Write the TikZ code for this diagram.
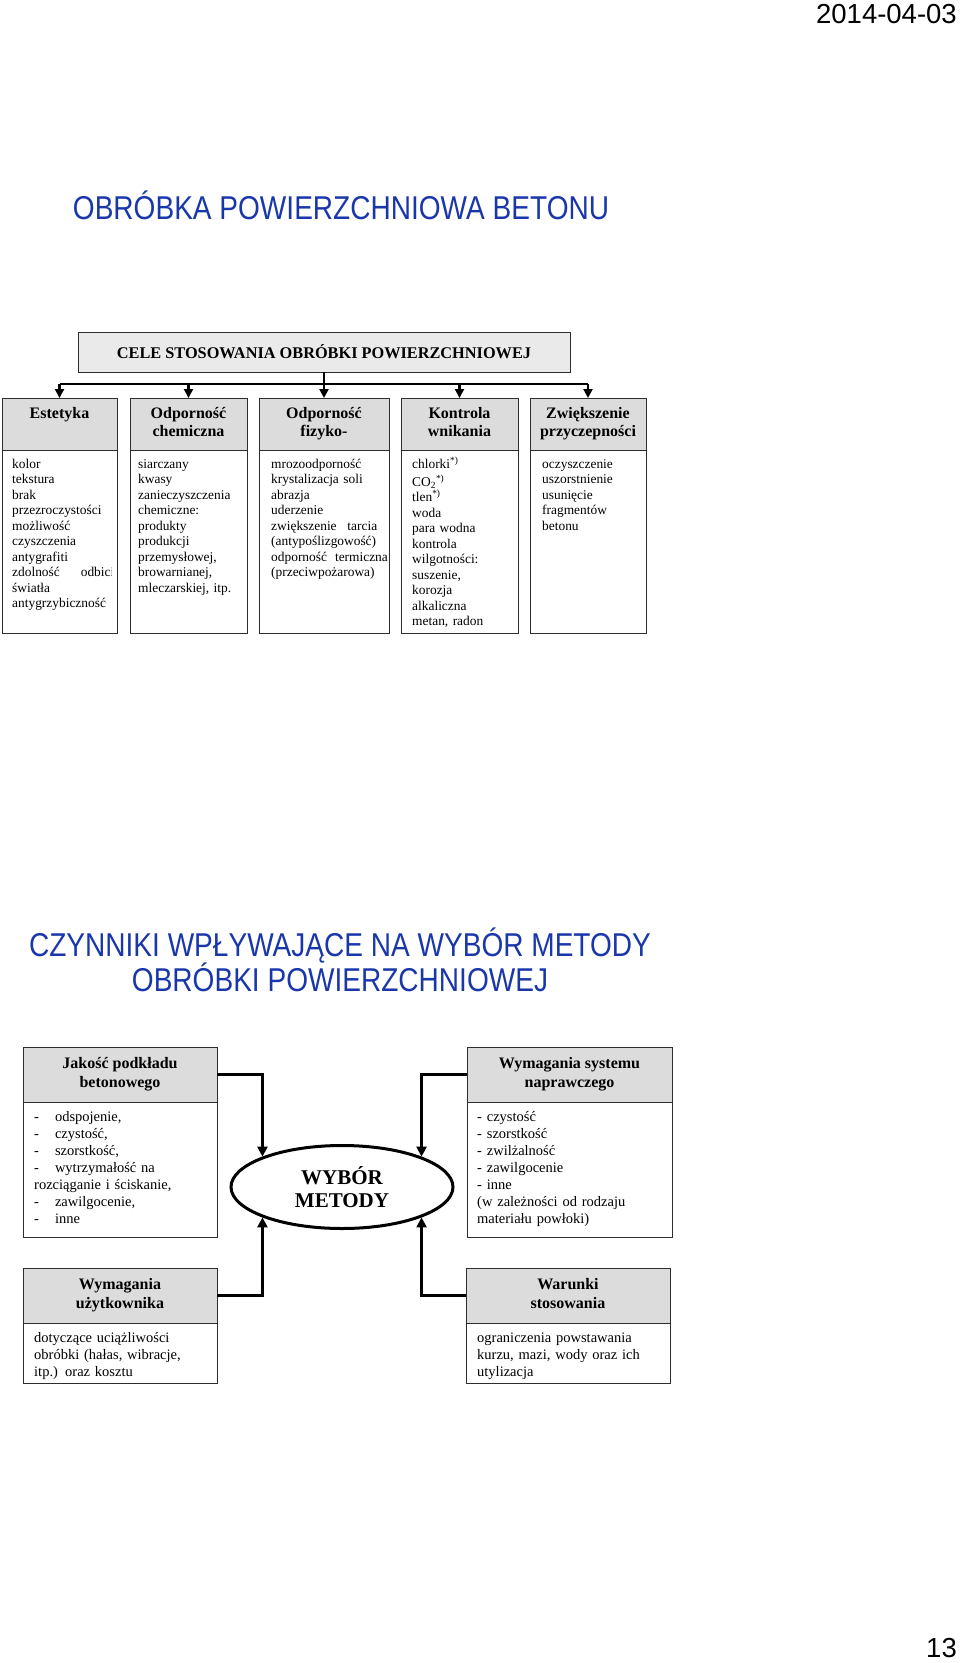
\documentclass[tikz,border=0pt]{standalone}
\usepackage{fontspec}
\setmainfont{Liberation Serif}
\newfontfamily\arialfont{Liberation Sans}
\usetikzlibrary{arrows.meta,shapes.geometric}
\definecolor{titleblue}{RGB}{25,55,170}
\definecolor{hdrgray}{RGB}{220,220,220}
\definecolor{celegray}{RGB}{234,234,234}
\definecolor{boxline}{RGB}{45,45,45}
\begin{document}
\begin{tikzpicture}[x=1pt,y=-1pt,
  hdr/.style={draw=boxline, line width=1pt, fill=hdrgray, anchor=north west, inner sep=0pt, outer sep=0pt, align=center, font=\fontsize{16}{18}\selectfont\bfseries},
  hdrb/.style={hdr, font=\fontsize{16}{19}\selectfont\bfseries},
  bodybox/.style={draw=boxline, line width=1pt, fill=white, anchor=north west, inner sep=0pt, outer sep=0pt},
  bodytext/.style={anchor=north west, inner sep=0pt, align=left, font=\fontsize{13.4}{15.5}\selectfont},
  btext/.style={anchor=north west, inner sep=0pt, align=left, text width=185pt, font=\fontsize{14.5}{17}\selectfont},
  titletext/.style={text=titleblue, inner sep=0pt, align=center, font=\arialfont\fontsize{33}{35.5}\selectfont},
  corner/.style={inner sep=0pt, font=\arialfont\fontsize{27.5}{30}\selectfont},
  tconn/.style={line width=2.2pt, black},
  tarr/.style={tconn, -{Triangle[width=9pt,length=9pt]}},
  barr/.style={line width=2.8pt, black, -{Triangle[width=10pt,length=10pt]}}
]
\useasboundingbox (0,0) rectangle (960,1663);

% corner texts
\node[corner, anchor=base east] (date) at (957,23) {2014-04-03};
\node[corner, anchor=base east] (pnum) at (957,1657) {13};

% titles
\node[titletext] (title1) at (341,205.5) {\scalebox{0.85}[1]{OBRÓBKA POWIERZCHNIOWA BETONU}};
\node[titletext] (title2) at (340,960) {\scalebox{0.85}[1]{CZYNNIKI WPŁYWAJĄCE NA WYBÓR METODY}\\\scalebox{0.85}[1]{OBRÓBKI POWIERZCHNIOWEJ}};

% ---------- top diagram ----------
\node[draw=boxline, line width=1pt, fill=celegray, minimum width=492, minimum height=40, inner sep=0pt, outer sep=0pt,
      font=\fontsize{16.3}{18}\selectfont\bfseries] (cele) at (324,352) {CELE STOSOWANIA OBRÓBKI POWIERZCHNIOWEJ};

\node[hdr, minimum width=115, minimum height=52] (h1) at (2,398) {\strut Estetyka\\\strut};
\node[bodybox, minimum width=115, minimum height=183] (b1) at (2,450) {};
\node[hdr, minimum width=117, minimum height=52] (h2) at (130,398) {\strut Odporność\\chemiczna\strut};
\node[bodybox, minimum width=117, minimum height=183] (b2) at (130,450) {};
\node[hdr, minimum width=130, minimum height=52] (h3) at (259,398) {\strut Odporność\\fizyko-\strut};
\node[bodybox, minimum width=130, minimum height=183] (b3) at (259,450) {};
\node[hdr, minimum width=117, minimum height=52] (h4) at (401,398) {\strut Kontrola\\wnikania\strut};
\node[bodybox, minimum width=117, minimum height=183] (b4) at (401,450) {};
\node[hdr, minimum width=116, minimum height=52] (h5) at (530,398) {\strut Zwiększenie\\przyczepności\strut};
\node[bodybox, minimum width=116, minimum height=183] (b5) at (530,450) {};

\begin{scope}
\clip (2,450) rectangle (111,633);
\node[bodytext, text width=98pt] (t1) at (12,457) {\strut kolor\\tekstura\\brak\\przezroczystości\\możliwość\\czyszczenia\\antygrafiti\\\mbox{zdolność\hspace{21pt}odbicia}\\światła\\antygrzybiczność};
\end{scope}
\node[bodytext, text width=104pt] (t2) at (138,457) {\strut siarczany\\kwasy\\zanieczyszczenia\\chemiczne:\\produkty\\produkcji\\przemysłowej,\\browarnianej,\\mleczarskiej, itp.};
\begin{scope}
\clip (259,450) rectangle (387,633);
\node[bodytext, text width=106pt] (t3) at (271,457) {\strut mrozoodporność\\krystalizacja soli\\abrazja\\uderzenie\\zwiększenie\hfill tarcia\\(antypoślizgowość)\\\mbox{odporność\hspace{8pt}termiczna}\\(przeciwpożarowa)};
\end{scope}
\node[bodytext, text width=102pt] (t4) at (412,457) {\strut chlorki\textsuperscript{*)}\\CO\textsubscript{2}\textsuperscript{*)}\\tlen\textsuperscript{*)}\\woda\\para wodna\\kontrola\\wilgotności:\\suszenie,\\korozja\\alkaliczna\\metan, radon};
\node[bodytext, text width=100pt] (t5) at (542,457) {\strut oczyszczenie\\uszorstnienie\\usunięcie\\fragmentów\\betonu};

\coordinate (bus) at (324,384);
\draw[tconn] (cele.south) -- (bus);
\draw[tconn] (h1.north |- bus) -- (h5.north |- bus);
\foreach \h in {h1,h2,h3,h4,h5}{
  \draw[tarr] (\h.north |- bus) -- (\h.north);
}

% ---------- bottom diagram ----------
\node[ellipse, draw, line width=3pt, minimum width=222, minimum height=83, inner sep=0pt, align=center,
      font=\fontsize{21}{23}\selectfont\bfseries] (ell) at (342,1187) {WYBÓR\\METODY};

\node[hdrb, minimum width=194, minimum height=55] (hj) at (23,1047) {\strut Jakość podkładu\\betonowego\strut};
\node[bodybox, minimum width=194, minimum height=135] (bj) at (23,1102) {};
\node[btext] (tj) at (34,1109) {\strut -\hspace{16pt}odspojenie,\\-\hspace{16pt}czystość,\\-\hspace{16pt}szorstkość,\\-\hspace{16pt}wytrzymałość na\\rozciąganie i ściskanie,\\-\hspace{16pt}zawilgocenie,\\-\hspace{16pt}inne};

\node[hdrb, minimum width=205, minimum height=55] (hs) at (467,1047) {\strut Wymagania systemu\\naprawczego\strut};
\node[bodybox, minimum width=205, minimum height=135] (bs) at (467,1102) {};
\node[btext] (ts) at (477,1109) {\strut - czystość\\- szorstkość\\- zwilżalność\\- zawilgocenie\\- inne\\(w zależności od rodzaju\\materiału powłoki)};

\node[hdrb, minimum width=194, minimum height=55] (hu) at (23,1268) {\strut Wymagania\\użytkownika\strut};
\node[bodybox, minimum width=194, minimum height=60] (bu) at (23,1323) {};
\node[btext] (tu) at (34,1330) {\strut dotyczące uciążliwości\\obróbki (hałas, wibracje,\\itp.) oraz kosztu};

\node[hdrb, minimum width=204, minimum height=55] (hw) at (466,1268) {\strut Warunki\\stosowania\strut};
\node[bodybox, minimum width=204, minimum height=60] (bw) at (466,1323) {};
\node[btext] (tw) at (477,1330) {\strut ograniczenia powstawania\\kurzu, mazi, wody oraz ich\\utylizacja};

\draw[barr] (hj.east) -| (ell.north west);
\draw[barr] (hs.west) -| (ell.north east);
\draw[barr] (hu.east) -| (ell.south west);
\draw[barr] (hw.west) -| (ell.south east);
\end{tikzpicture}
\end{document}
